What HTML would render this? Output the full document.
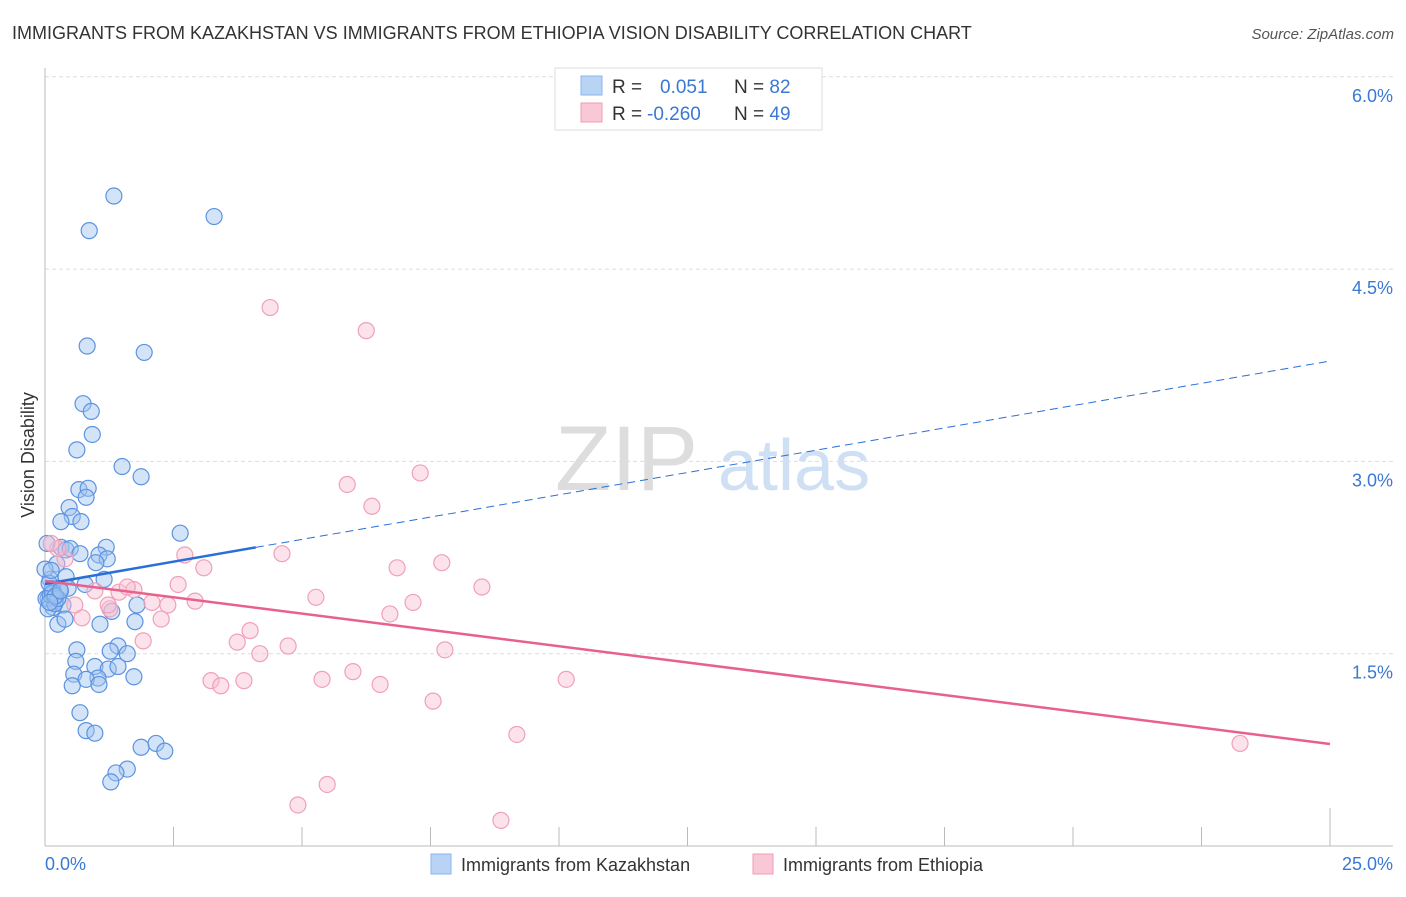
<!DOCTYPE html>
<html><head><meta charset="utf-8"><style>
body{margin:0;background:#fff;font-family:"Liberation Sans",sans-serif;}
svg text{font-family:"Liberation Sans",sans-serif;}
</style></head><body>
<svg id="c" width="1406" height="892" xmlns="http://www.w3.org/2000/svg">
<text x="12" y="39" font-size="18" fill="#333">IMMIGRANTS FROM KAZAKHSTAN VS IMMIGRANTS FROM ETHIOPIA VISION DISABILITY CORRELATION CHART</text>
<text x="1394" y="39" font-size="15" fill="#555" font-style="italic" text-anchor="end">Source: ZipAtlas.com</text>
<g><text x="555" y="490" font-size="92" fill="#ddd" font-family="Liberation Serif">ZIP</text><text x="718" y="490" font-size="72" fill="#cfe0f4">atlas</text></g>
<g id="grid"></g><g id="axes"></g><g id="pts"></g><g id="lines"></g>
<text transform="translate(34,455) rotate(-90)" font-size="18" fill="#333" text-anchor="middle">Vision Disability</text>
<g>
<rect x="555" y="68" width="267" height="62" fill="#fff" stroke="#ddd"/>
<rect x="581" y="76" width="21" height="19" fill="#b9d3f4" stroke="#8ab4ec"/>
<rect x="581" y="103" width="21" height="19" fill="#f9c8d6" stroke="#f09cb6"/>
<text x="612" y="93" font-size="19" fill="#333">R = <tspan x="660" fill="#3a78d4">0.051</tspan></text>
<text x="734" y="93" font-size="19" fill="#333">N = <tspan fill="#3a78d4">82</tspan></text>
<text x="612" y="120" font-size="19" fill="#333">R = <tspan x="647" fill="#3a78d4">-0.260</tspan></text>
<text x="734" y="120" font-size="19" fill="#333">N = <tspan fill="#3a78d4">49</tspan></text>
</g>
<g>
<rect x="431" y="854" width="20" height="20" fill="#b9d3f4" stroke="#8ab4ec"/>
<text x="461" y="871" font-size="18" fill="#333">Immigrants from Kazakhstan</text>
<rect x="753" y="854" width="20" height="20" fill="#f9c8d6" stroke="#f09cb6"/>
<text x="783" y="871" font-size="18" fill="#333">Immigrants from Ethiopia</text>
</g>
</svg>
<script>
const yTicks=[1.5,3.0,4.5,6.0];
const yTickLabels=["1.5%","3.0%","4.5%","6.0%"];
const xTickLabels=["0.0%","25.0%"];
const kazX=[1.34,0.86,3.29,0.82,1.93,0.74,0.90,0.92,0.62,1.50,1.87,0.66,0.84,0.80,0.47,0.53,0.31,0.70,2.63,0.04,0.31,0.41,0.49,1.19,1.05,1.21,0.68,0.99,0.23,0.41,0.10,1.15,0.78,0.45,0.14,0.29,0.06,0.21,0.35,0.16,1.79,1.30,0.25,0.39,1.07,1.75,1.42,0.62,1.27,1.60,0.60,0.97,1.23,0.56,1.42,1.73,1.03,0.80,0.53,1.05,0.68,0.80,0.97,1.87,2.16,2.33,1.60,1.38,1.28,0.02,0.06,0.19,0.10,0.16,0.00,0.14,0.25,0.08,0.12,0.20,0.30,0.09];
const kazY=[5.07,4.80,4.91,3.90,3.85,3.45,3.39,3.21,3.09,2.96,2.88,2.78,2.79,2.72,2.64,2.57,2.53,2.53,2.44,2.36,2.33,2.31,2.32,2.33,2.27,2.24,2.28,2.21,2.20,2.10,2.08,2.08,2.04,2.01,2.01,2.00,1.93,1.91,1.88,1.86,1.88,1.83,1.73,1.77,1.73,1.75,1.56,1.53,1.52,1.50,1.44,1.40,1.38,1.34,1.40,1.32,1.31,1.30,1.25,1.26,1.04,0.90,0.88,0.77,0.80,0.74,0.60,0.57,0.50,1.93,1.85,1.89,1.96,1.98,2.16,1.97,1.93,2.05,2.15,1.95,1.99,1.90];
const ethX=[4.38,6.25,7.30,5.88,6.36,4.61,2.72,3.09,6.85,7.72,8.50,2.59,5.27,7.16,6.71,2.92,2.08,2.39,1.73,1.44,1.26,1.60,1.23,2.26,0.72,0.58,0.39,0.25,0.12,3.99,3.74,1.91,4.18,4.73,7.78,3.23,3.42,3.87,5.39,5.99,6.52,10.14,7.55,9.18,4.92,5.49,8.87,23.25,0.97];
const ethY=[4.20,4.02,2.91,2.82,2.65,2.28,2.27,2.17,2.17,2.21,2.02,2.04,1.94,1.90,1.81,1.91,1.90,1.88,2.00,1.98,1.85,2.02,1.88,1.77,1.78,1.88,2.24,2.32,2.36,1.68,1.59,1.60,1.50,1.56,1.53,1.29,1.25,1.29,1.30,1.36,1.26,1.30,1.13,0.87,0.32,0.48,0.20,0.80,1.99];
const kazTrend=[2.044,3.783];
const ethTrend=[2.067,0.796];
const NS="http://www.w3.org/2000/svg";
const X0=45,X1=1330,Y0=846,PY=128.2;
const sx=v=>X0+(X1-X0)*v/25;
const sy=v=>Y0-v*PY;
function mk(tag,attrs,parent){const e=document.createElementNS(NS,tag);for(const k in attrs)e.setAttribute(k,attrs[k]);document.getElementById(parent).appendChild(e);return e;}
yTicks.forEach((t,i)=>{
  const g=mk('line',{x1:X0,x2:1393,y1:sy(t),y2:sy(t),stroke:'#ddd','stroke-dasharray':'4,3'},'grid');
  
  
  const tx=mk('text',{x:1393,y:sy(t)+25,'font-size':18,fill:'#3a78d4','text-anchor':'end'},'grid');
  tx.textContent=yTickLabels[i];
  
  
});
let a=mk('line',{x1:X0,x2:X0,y1:68,y2:Y0,stroke:'#bbb'},'axes');


a=mk('line',{x1:X0,x2:1393,y1:Y0,y2:Y0,stroke:'#bbb'},'axes');


for(let i=1;i<=10;i++){
  const x=sx(i*2.5);
  const t=mk('line',{x1:x,x2:x,y1:i==10?808:827,y2:Y0,stroke:'#bbb'},'axes');
  
  
}
[[0,'start',45],[25,'end',1393]].forEach((d,i)=>{
  const t=mk('text',{x:d[2],y:870,'font-size':18,fill:'#3a78d4','text-anchor':d[1]},'axes');
  t.textContent=xTickLabels[i];
  
  
});
kazX.forEach((v,i)=>{
  const c=mk('circle',{cx:sx(v),cy:sy(kazY[i]),r:8,fill:'rgba(160,195,240,0.45)',stroke:'#5b93e0','stroke-width':1.2},'pts');
  
  
});
ethX.forEach((v,i)=>{
  const c=mk('circle',{cx:sx(v),cy:sy(ethY[i]),r:8,fill:'rgba(248,190,208,0.45)',stroke:'#f0a0ba','stroke-width':1.2},'pts');
  
  
});
const kv=x=>kazTrend[0]+(kazTrend[1]-kazTrend[0])*x/25;
let l=mk('line',{x1:sx(0),y1:sy(kv(0)),x2:sx(4.1),y2:sy(kv(4.1)),stroke:'#2a6fd6','stroke-width':2.5},'lines');


l=mk('line',{x1:sx(4.1),y1:sy(kv(4.1)),x2:sx(25),y2:sy(kv(25)),stroke:'#2a6fd6','stroke-width':1,'stroke-dasharray':'8,5'},'lines');


l=mk('line',{x1:sx(0),y1:sy(ethTrend[0]),x2:sx(25),y2:sy(ethTrend[1]),stroke:'#e8608e','stroke-width':2.5},'lines');


</script>
</body></html>
